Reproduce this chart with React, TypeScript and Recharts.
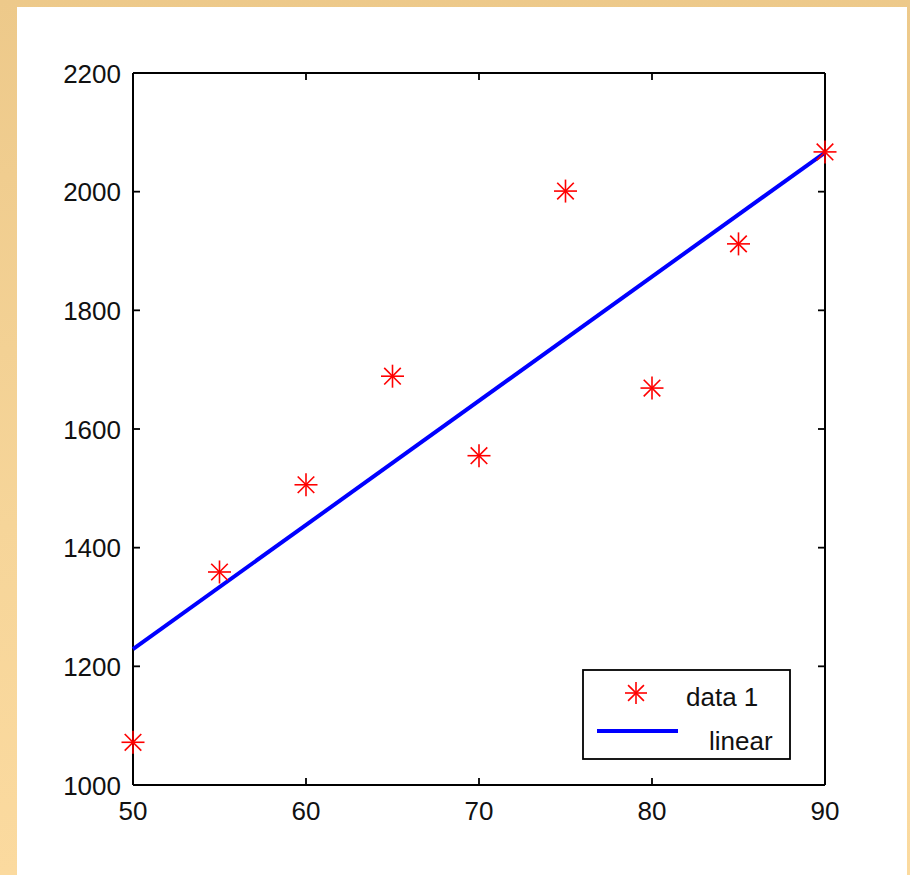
import { ComposedChart, Scatter, XAxis, YAxis, Legend } from 'recharts'

// ── data ────────────────────────────────────────────────────────────────────
const X_VALUES = [50, 55, 60, 65, 70, 75, 80, 85, 90]
const Y_VALUES = [1072, 1359, 1506, 1689, 1555, 2001, 1669, 1912, 2067]
const FIT_X = [50, 90]
const FIT_Y = [1229, 2066]
const X_TICKS = [50, 60, 70, 80, 90]
const Y_TICKS = [1000, 1200, 1400, 1600, 1800, 2000, 2200]

const points = X_VALUES.map((x, i) => ({ x, y: Y_VALUES[i] }))
const fit = FIT_X.map((x, i) => ({ x, y: FIT_Y[i] }))

// ── layout ──────────────────────────────────────────────────────────────────
const W = 890
const H = 868
const PLOT_L = 116
const PLOT_R = 808
const PLOT_T = 66
const PLOT_B = 778
// axes take 1px each, so margins are 1px smaller than the plot edges
const MARGIN = { top: PLOT_T - 1, right: W - PLOT_R - 1, bottom: H - PLOT_B - 1, left: PLOT_L - 1 }
const TICK = 7
const FONT = '"Liberation Sans", Arial, Helvetica, sans-serif'
const FS = 26
const AXIS = { stroke: '#000', strokeWidth: 2 }

function Asterisk({ cx, cy, r = 11.5 }: { cx: number; cy: number; r?: number }) {
  const d = r * 0.72
  return (
    <g stroke="#FF0000" strokeWidth={1.6} fill="none">
      <line x1={cx - r} y1={cy} x2={cx + r} y2={cy} />
      <line x1={cx} y1={cy - r} x2={cx} y2={cy + r} />
      <line x1={cx - d} y1={cy - d} x2={cx + d} y2={cy + d} />
      <line x1={cx - d} y1={cy + d} x2={cx + d} y2={cy - d} />
    </g>
  )
}

function XTick(props: any) {
  const { x, payload } = props
  return (
    <g>
      <line x1={x} y1={PLOT_B} x2={x} y2={PLOT_B - TICK} stroke="#000" strokeWidth={1.8} />
      <line x1={x} y1={PLOT_T} x2={x} y2={PLOT_T + TICK} stroke="#000" strokeWidth={1.8} />
      <text x={x} y={PLOT_B + 35} textAnchor="middle" fontFamily={FONT} fontSize={FS} fill="#111">
        {payload.value}
      </text>
    </g>
  )
}

function YTick(props: any) {
  const { y, payload } = props
  return (
    <g>
      <line x1={PLOT_L} y1={y} x2={PLOT_L + TICK} y2={y} stroke="#000" strokeWidth={1.8} />
      <line x1={PLOT_R} y1={y} x2={PLOT_R - TICK} y2={y} stroke="#000" strokeWidth={1.8} />
      <text x={PLOT_L - 12} y={y + 9.5} textAnchor="end" fontFamily={FONT} fontSize={FS} fill="#111">
        {payload.value}
      </text>
    </g>
  )
}

function LegendBox() {
  return (
    <svg width={210} height={92} style={{ display: 'block' }}>
      <rect x={1} y={1} width={207} height={89} fill="#fff" stroke="#000" strokeWidth={1.8} />
      <Asterisk cx={54} cy={24} r={11} />
      <text x={104} y={37} fontFamily={FONT} fontSize={FS} fill="#111">data 1</text>
      <line x1={15} y1={62} x2={96} y2={62} stroke="#0000FF" strokeWidth={4} />
      <text x={127} y={81} fontFamily={FONT} fontSize={FS} fill="#111">linear</text>
    </svg>
  )
}

export default function App() {
  return (
    <div style={{
      position: 'absolute', left: 0, top: 0, width: 910, height: 875,
      background: 'linear-gradient(to bottom, #EDC98A 0%, #F6D599 60%, #FBDA9F 100%)',
    }}>
      <div style={{ position: 'absolute', left: 17, top: 7, width: W, height: H, background: '#fff' }}>
        <ComposedChart width={W} height={H} margin={MARGIN}>
          <XAxis xAxisId="b" type="number" dataKey="x" domain={[50, 90]} ticks={X_TICKS} interval={0}
                 height={1} axisLine={AXIS} tickLine={false} tick={<XTick />} />
          <XAxis xAxisId="t" orientation="top" type="number" dataKey="x" domain={[50, 90]} ticks={X_TICKS}
                 height={1} axisLine={AXIS} tick={false} tickLine={false} />
          <YAxis yAxisId="l" type="number" dataKey="y" domain={[1000, 2200]} ticks={Y_TICKS} interval={0}
                 width={1} axisLine={AXIS} tickLine={false} tick={<YTick />} />
          <YAxis yAxisId="r" orientation="right" type="number" dataKey="y" domain={[1000, 2200]} ticks={Y_TICKS}
                 width={1} axisLine={AXIS} tick={false} tickLine={false} />
          <Scatter name="linear" data={fit} xAxisId="b" yAxisId="l" line={{ stroke: '#0000FF', strokeWidth: 4 }}
                   shape={() => null} isAnimationActive={false} />
          <Scatter name="data 1" data={points} xAxisId="b" yAxisId="l"
                   shape={(p: any) => <Asterisk cx={p.cx} cy={p.cy} />} isAnimationActive={false} />
          <Legend layout="horizontal" verticalAlign="middle" align="center" content={() => <LegendBox />}
                  wrapperStyle={{ left: 583 - 17 - 1, top: 670 - 7 - 1, width: 210, height: 92 }} />
        </ComposedChart>
      </div>
    </div>
  )
}
